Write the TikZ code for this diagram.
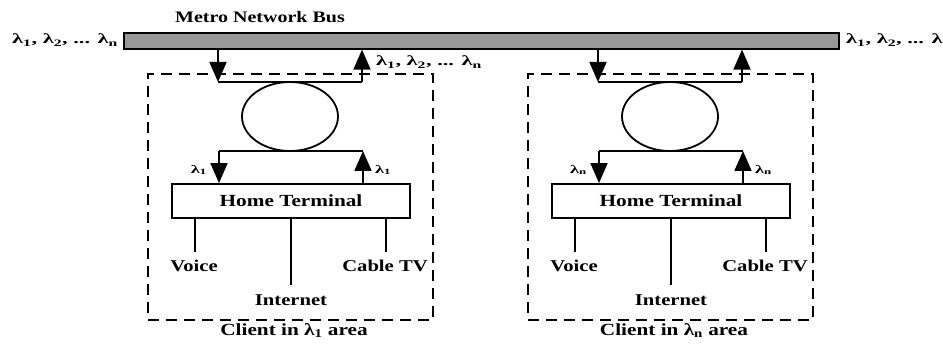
\documentclass[tikz,border=0pt]{standalone}
\usepackage{fontspec}
\setmainfont{Liberation Serif}[FakeStretch=1.25]
\newfontfamily\lamfont{Liberation Serif}[FakeStretch=1.6]
\usetikzlibrary{arrows.meta,shapes.geometric}
\begin{document}
\begin{tikzpicture}[x=1pt,y=-1pt,
  line/.style={line width=1.8pt, line join=miter},
  arr/.style={line, -{Triangle[width=17pt,length=20pt]}},
  busbar/.style={draw, line width=1.6pt, fill=black!40, rectangle, inner sep=0pt},
  clientbox/.style={draw, line width=1.6pt, dash pattern=on 11pt off 7pt, rectangle, inner sep=0pt},
  terminal/.style={draw, line width=1.8pt, rectangle, inner sep=0pt, font=\fontsize{17}{19}\selectfont\bfseries},
  ring/.style={draw, line width=1.8pt, ellipse, inner sep=0pt},
  lbl/.style={inner sep=1pt, font=\fontsize{16.5}{18}\selectfont\bfseries},
  ttl/.style={inner sep=1pt, font=\fontsize{16}{18}\selectfont\bfseries},
  captxt/.style={inner sep=1pt, font=\fontsize{17}{19}\selectfont\bfseries},
  lam/.style={inner sep=1pt, font=\lamfont\fontsize{14}{16}\selectfont\bfseries},
  smlam/.style={inner sep=1pt, font=\lamfont\fontsize{11.5}{13}\selectfont\bfseries}
]
\useasboundingbox (0,0) rectangle (943,344);

% bus
\node[busbar, minimum width=715pt, minimum height=16pt, anchor=north west] (bus) at (123,32) {};
\node[ttl] (title) at (260,17) {Metro Network Bus};
\node[lam, anchor=east] (lamL) at (119,40) {λ\textsubscript{1}, λ\textsubscript{2}, ... λ\textsubscript{n}};
\node[lam, anchor=west] (lamR) at (845,40) {λ\textsubscript{1}, λ\textsubscript{2}, ... λ\textsubscript{n}};

\foreach \i/\dx/\s in {1/0/1, 2/380/n} {
  \node[clientbox, minimum width=285pt, minimum height=246pt] (client\i) at (290.5+\dx,197) {};
  \node[captxt, anchor=north] (capt\i) at (294+\dx,322) {Client in λ\textsubscript{\s} area};
  \node[ring, minimum width=96pt, minimum height=69pt] (ring\i) at (290+\dx,116.5) {};
  \node[terminal, minimum width=238pt, minimum height=34pt] (ht\i) at (291+\dx,201) {Home Terminal};
  % top loop
  \coordinate (td\i) at (218+\dx,82);
  \coordinate (tu\i) at (362+\dx,82);
  \draw[arr] (bus.south -| td\i) -- (td\i);
  \draw[line] (td\i) -- (tu\i);
  \draw[arr] (tu\i) -- (bus.south -| tu\i);
  % bottom loop
  \coordinate (bd\i) at (219+\dx,151);
  \coordinate (bu\i) at (363+\dx,151);
  \draw[line] (bd\i) -- (bu\i);
  \draw[arr] (bd\i) -- (ht\i.north -| bd\i);
  \draw[arr] (ht\i.north -| bu\i) -- (bu\i);
  \node[smlam, anchor=east] (lin\i) at (208+\dx,170) {λ\textsubscript{\s}};
  \node[smlam, anchor=west] (lout\i) at (374+\dx,170) {λ\textsubscript{\s}};
  % outputs
  \coordinate (v\i) at (195+\dx,252);
  \coordinate (n\i) at (291+\dx,285);
  \coordinate (c\i) at (386+\dx,252);
  \draw[line] (ht\i.south -| v\i) -- (v\i);
  \draw[line] (ht\i.south -| n\i) -- (n\i);
  \draw[line] (ht\i.south -| c\i) -- (c\i);
  \node[lbl] (voice\i) at (194+\dx,266) {Voice};
  \node[lbl] (inet\i) at (291+\dx,300) {Internet};
  \node[lbl] (catv\i) at (385+\dx,266) {Cable TV};
}
\node[lam, anchor=west] (lamC) at (375,62) {λ\textsubscript{1}, λ\textsubscript{2}, ... λ\textsubscript{n}};
\end{tikzpicture}
\end{document}
